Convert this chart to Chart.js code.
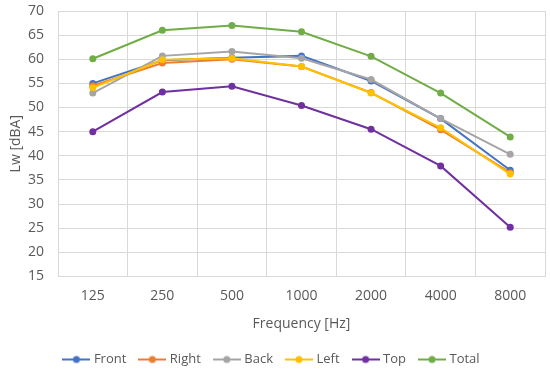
<!DOCTYPE html>
<html>
<head>
<meta charset="utf-8">
<script src="https://cdn.jsdelivr.net/npm/chart.js@4/dist/chart.umd.min.js"></script>
<style>
  html, body { margin: 0; padding: 0; background: #fff; }
  #wrap { width: 550px; height: 378px; }
</style>
</head>
<body>
<div id="wrap"><canvas id="soundchart" width="550" height="378"></canvas></div>
<script>
const frequencies = ['125', '250', '500', '1000', '2000', '4000', '8000'];
const front = [55.0, 59.8, 60.3, 60.7, 55.5, 47.7, 37.0];
const right = [54.5, 59.2, 60.0, 58.5, 53.1, 45.4, 36.5];
const back  = [53.0, 60.7, 61.6, 60.2, 55.8, 47.7, 40.3];
const left  = [54.1, 59.9, 60.2, 58.5, 53.0, 45.8, 36.2];
const top_  = [45.0, 53.2, 54.4, 50.4, 45.5, 37.9, 25.2];
const total = [60.1, 66.0, 67.0, 65.7, 60.6, 53.0, 43.9];
const yTicks = [15, 20, 25, 30, 35, 40, 45, 50, 55, 60, 65, 70];

const textColor = '#595959';
const gridColor = '#d9d9d9';
const fontFamily = "'Open Sans', 'Noto Sans', sans-serif";

// little line-with-dot marker for the legend, like Excel draws it
function legendMarker(color){
    const c = document.createElement('canvas');
    c.width = 28; c.height = 10;
    const ctx = c.getContext('2d');
    ctx.strokeStyle = color;
    ctx.lineWidth = 2;
    ctx.beginPath();
    ctx.moveTo(0, 5); ctx.lineTo(28, 5);
    ctx.stroke();
    ctx.fillStyle = color;
    ctx.beginPath();
    ctx.arc(14, 5, 3.5, 0, Math.PI * 2);
    ctx.fill();
    return c;
}

function series(label, data, color, order){
    return {
        label: label,
        data: data,
        borderColor: color,
        backgroundColor: color,
        borderWidth: 2,
        pointRadius: 3.5,
        pointHoverRadius: 3.5,
        pointBorderWidth: 0,
        tension: 0,
        order: order
    };
}

const chart = new Chart(document.getElementById('soundchart').getContext('2d'), {
    type: 'line',
    data: {
        labels: frequencies,
        datasets: [
            series('Front', front, '#4472C4', 6),
            series('Right', right, '#ED7D31', 5),
            series('Back', back, '#A5A5A5', 4),
            series('Left', left, '#FFC000', 3),
            series('Top', top_, '#7030A0', 2),
            series('Total', total, '#70AD47', 1)
        ]
    },
    options: {
        responsive: false,
        animation: false,
        layout: { padding: { left: 0, right: 5, top: 11, bottom: 2 } },
        plugins: {
            tooltip: { enabled: false },
            legend: {
                position: 'bottom',
                labels: {
                    usePointStyle: true,
                    pointStyleWidth: 22,
                    color: textColor,
                    font: { family: fontFamily, size: 13 },
                    padding: 15,
                    generateLabels: function(ch){
                        return ch.data.datasets.map((ds, i) => ({
                            text: ds.label,
                            fillStyle: ds.borderColor,
                            strokeStyle: ds.borderColor,
                            fontColor: textColor,
                            lineWidth: 0,
                            pointStyle: legendMarker(ds.borderColor),
                            hidden: false,
                            datasetIndex: i
                        }));
                    }
                }
            }
        },
        scales: {
            x: {
                offset: true,
                grid: { color: gridColor, offset: true, drawTicks: false, lineWidth: 1 },
                border: { color: gridColor },
                ticks: { color: textColor, font: { family: fontFamily, size: 14 }, padding: 11 },
                title: {
                    display: true,
                    text: 'Frequency [Hz]',
                    color: textColor,
                    font: { family: fontFamily, size: 14 },
                    padding: { top: 0, bottom: 6 }
                }
            },
            y: {
                min: 15,
                max: 70,
                afterBuildTicks: s => { s.ticks = yTicks.map(v => ({ value: v })); },
                afterFit: s => { s.width = 58; s.paddingTop = 0; },
                grid: { color: gridColor, drawTicks: false },
                border: { color: gridColor },
                ticks: { color: textColor, font: { family: fontFamily, size: 14 }, padding: 14 },
                title: {
                    display: true,
                    text: 'Lw [dBA]',
                    color: textColor,
                    font: { family: fontFamily, size: 14 },
                    padding: { top: 8, bottom: 0 }
                }
            }
        }
    }
});
</script>
</body>
</html>
